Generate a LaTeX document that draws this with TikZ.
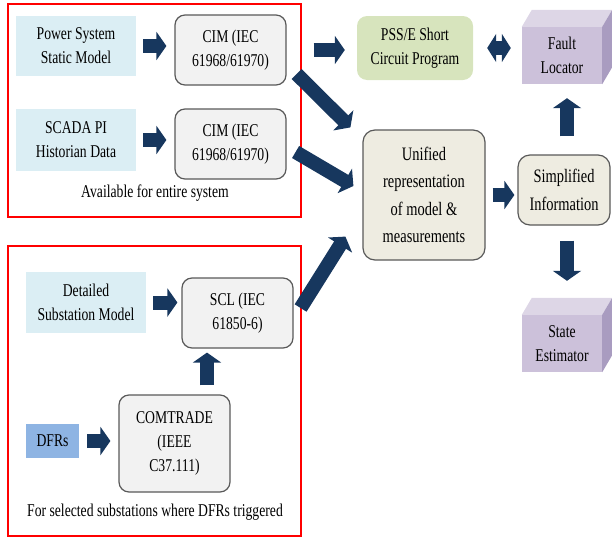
\documentclass[tikz,border=0pt]{standalone}
\usepackage{fontspec}
\setmainfont{Liberation Serif}[FakeStretch=0.76]
\usetikzlibrary{arrows.meta}
\definecolor{navy}{HTML}{17375E}
\definecolor{srcblue}{HTML}{DBEEF4}
\definecolor{dfrblue}{HTML}{8EB4E3}
\definecolor{stdgray}{HTML}{F2F2F2}
\definecolor{edgegray}{HTML}{595959}
\definecolor{pssgreen}{HTML}{D7E4BD}
\definecolor{unibeige}{HTML}{EEECE1}
\definecolor{cubefront}{HTML}{CCC1DA}
\definecolor{cubetop}{HTML}{DDD6E6}
\definecolor{cubeside}{HTML}{A99CC0}
\tikzset{
  txt/.style={font=\fontsize{18}{24}\selectfont, align=center, inner sep=0pt},
  src/.style={txt, fill=srcblue},
  std/.style={txt, fill=stdgray, draw=edgegray, line width=1.2pt, rounded corners=10pt},
  uni/.style={txt, font=\fontsize{19}{27.5}\selectfont, fill=unibeige, draw=edgegray, line width=1.2pt, rounded corners=12pt},
  cube/.style={txt, fill=cubefront, minimum width=80pt, minimum height=57pt},
  group/.style={draw=red, line width=1.2pt},
  blockarrow/.style={draw=navy, line width=14pt, -{Triangle[width=28pt,length=10pt]}},
  twoway/.style={draw=navy, line width=14pt, {Triangle[width=28pt,length=9pt]}-{Triangle[width=28pt,length=9pt]}}
}
\begin{document}
\begin{tikzpicture}[x=1pt,y=1pt,yscale=-1]
\useasboundingbox (0,0) rectangle (612,538);
% system wide sources
\draw[group] (8,4) rectangle (301,217);
\node[src, minimum width=120pt, minimum height=60pt] (psm) at (76,46) {Power System\\Static Model};
\node[src, minimum width=120pt, minimum height=62pt] (scada) at (76,140) {SCADA PI\\Historian Data};
\node[std, minimum width=111pt, minimum height=70pt] (cimA) at (230.5,50) {CIM (IEC\\61968/61970)};
\node[std, minimum width=111pt, minimum height=70pt] (cimB) at (230.5,144) {CIM (IEC\\61968/61970)};
\node[txt] (avail) at (155,193) {Available for entire system};
% substation sources
\draw[group] (8,246) rectangle (301,536);
\node[src, minimum width=120pt, minimum height=61pt] (detail) at (86,302.5) {Detailed\\Substation Model};
\node[std, minimum width=111pt, minimum height=70pt] (scl) at (237.5,313) {SCL (IEC\\61850-6)};
\node[std, minimum width=111pt, minimum height=97pt] (comtrade) at (174.5,443.5) {COMTRADE\\(IEEE\\C37.111)};
\node[txt, fill=dfrblue, minimum width=53pt, minimum height=34pt] (dfr) at (52.5,441) {DFRs};
\node[txt] (selected) at (155,512) {For selected substations where DFRs triggered};
% right side
\node[txt, fill=pssgreen, rounded corners=10pt, minimum width=116pt, minimum height=64pt] (pss) at (415,48) {PSS/E Short\\Circuit Program};
\node[uni, minimum width=122pt, minimum height=130pt] (unified) at (424,195) {Unified\\representation\\of model \&\\measurements};
\node[uni, minimum width=92pt, minimum height=70pt] (simp) at (564,190) {Simplified\\Information};
\node[cube] (fault) at (562,55.5) {Fault\\Locator};
\fill[cubetop] (fault.north west) -- ++(10,-17) -- ([shift={(10,-17)}]fault.north east) -- (fault.north east) -- cycle;
\fill[cubeside] (fault.north east) -- ++(10,-17) -- ([shift={(10,-17)}]fault.south east) -- (fault.south east) -- cycle;
\node[cube] (state) at (562,343.5) {State\\Estimator};
\fill[cubetop] (state.north west) -- ++(10,-17) -- ([shift={(10,-17)}]state.north east) -- (state.north east) -- cycle;
\fill[cubeside] (state.north east) -- ++(10,-17) -- ([shift={(10,-17)}]state.south east) -- (state.south east) -- cycle;
% arrows
\draw[blockarrow, shorten <=7pt, shorten >=8pt] (psm.east) -- (psm.east -| cimA.west);
\draw[blockarrow, shorten <=7pt, shorten >=8pt] (scada.east) -- (scada.east -| cimB.west);
\draw[blockarrow, shorten <=27pt, shorten >=12pt] (cimA.east) -- (cimA.east -| pss.west);
\draw[twoway, shorten <=14pt, shorten >=11pt] (pss.east) -- (pss.east -| fault.west);
\draw[blockarrow] ([shift={(10,24)}]cimA.east) -- ([shift={(-12,-2)}]unified.north west);
\draw[blockarrow] ([shift={(9,8)}]cimB.east) -- ([shift={(-9,-9)}]unified.west);
\draw[blockarrow] ([shift={(7,-5)}]scl.east) -- ([shift={(-17,-24)}]unified.south west);
\draw[blockarrow, shorten <=7pt, shorten >=3pt] (unified.east) -- (unified.east -| simp.west);
\draw[blockarrow, shorten <=18pt, shorten >=14pt] ([xshift=3pt]simp.north) -- ([xshift=5pt]fault.south);
\draw[blockarrow, shorten <=15pt, shorten >=34pt] ([xshift=3pt]simp.south) -- ([xshift=5pt]state.north);
\draw[blockarrow, shorten <=7pt, shorten >=4pt] (detail.east) -- (detail.east -| scl.west);
\draw[blockarrow, shorten <=9pt, shorten >=4pt] ([xshift=32.5pt]comtrade.north) -- ([xshift=-30.5pt]scl.south);
\draw[blockarrow, shorten <=8pt, shorten >=8pt] (dfr.east) -- (dfr.east -| comtrade.west);
\end{tikzpicture}
\end{document}
